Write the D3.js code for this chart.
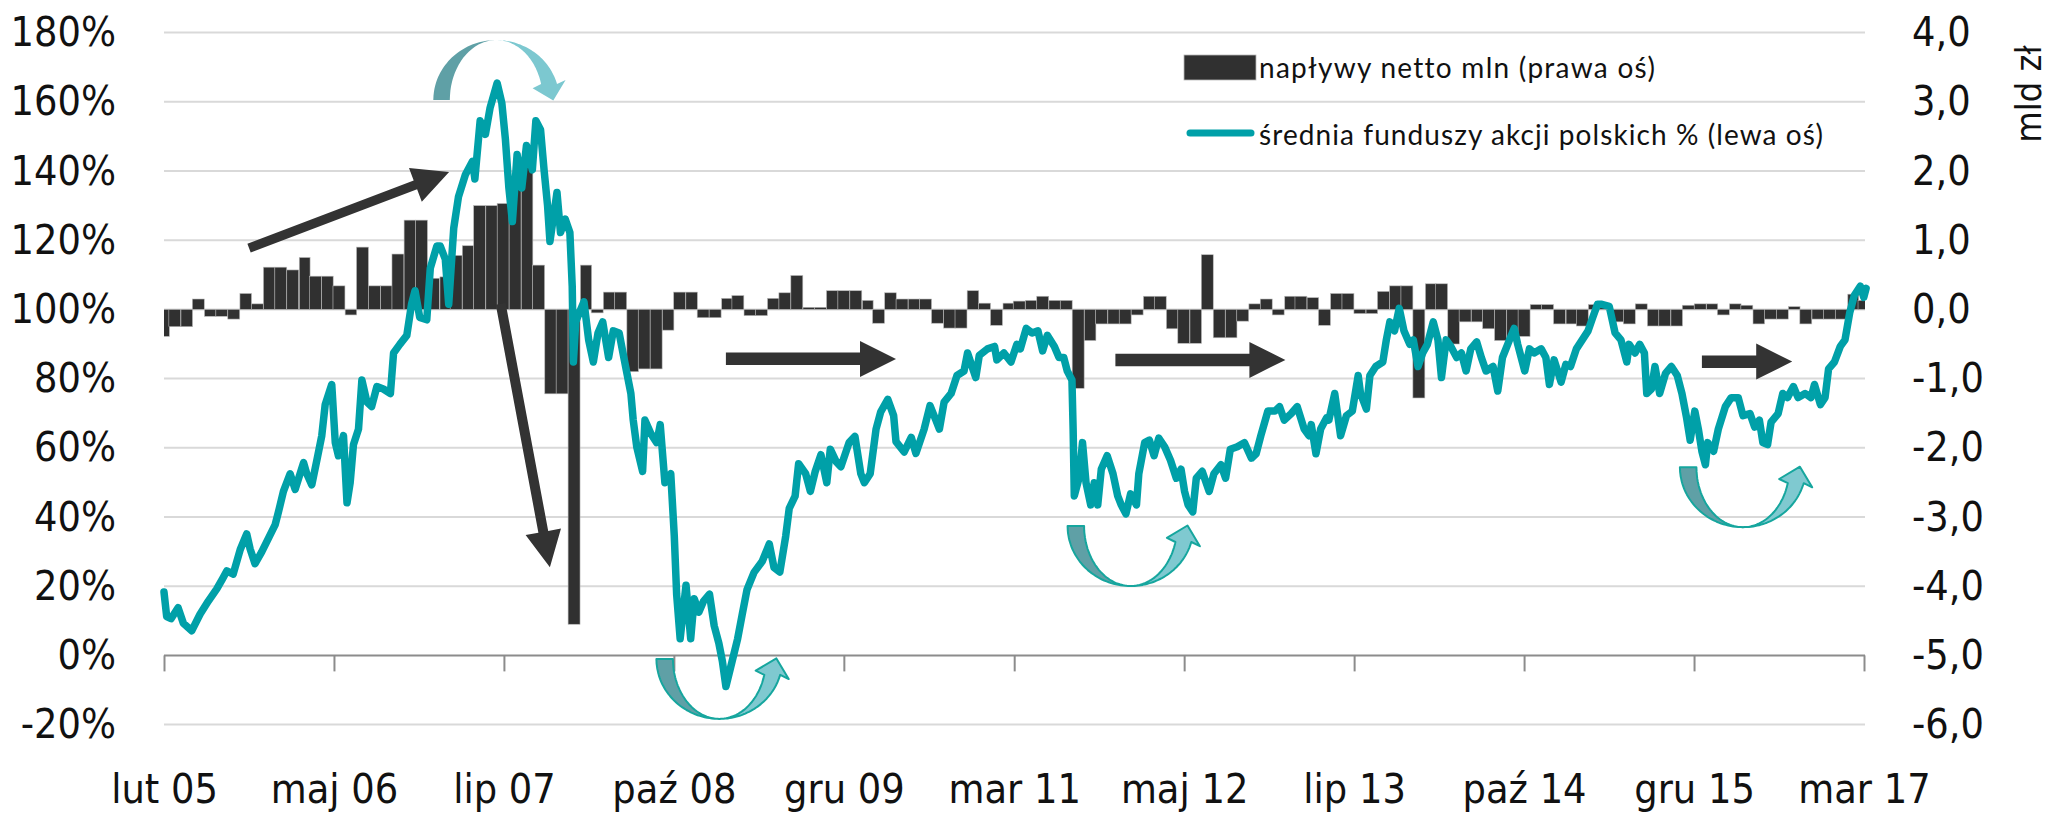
<!DOCTYPE html>
<meta charset="utf-8">
<html>
<head>
<style>
  body { margin:0; background:#fff; }
  svg { display:block; }
  text { font-variant-ligatures: none; }
</style>
<script src="https://d3js.org/d3.v7.min.js"></script>
</head>
<body>
<svg width="2070" height="815"></svg>
<script>
// ---- data ----
var leftTicks = [-20, 0, 20, 40, 60, 80, 100, 120, 140, 160, 180];
var rightTicks = [-6, -5, -4, -3, -2, -1, 0, 1, 2, 3, 4];
var xTickDates = ["2005-02-15", "2006-05-02", "2007-07-17", "2008-09-30", "2009-12-15", "2011-03-02",
                  "2012-05-16", "2013-07-31", "2014-10-15", "2015-12-30", "2017-03-15"];
var xTickLabels = ["lut 05", "maj 06", "lip 07", "paź 08", "gru 09", "mar 11",
                   "maj 12", "lip 13", "paź 14", "gru 15", "mar 17"];
var seriesStart = "2005-02-15";
var seriesEnd = "2017-03-15";

// monthly net inflows, bln zł (right axis), Feb 2005 .. Mar 2017
var netFlows = [
  -0.39, -0.25, -0.25, 0.15, -0.10, -0.10, -0.14, 0.23, 0.08, 0.61,
  0.61, 0.57, 0.75, 0.48, 0.48, 0.34, -0.08, 0.90, 0.34, 0.34,
  0.80, 1.29, 1.29, 0.45, 0.47, 0.78, 0.92, 1.50, 1.50, 1.53,
  1.85, 2.07, 0.64, -1.22, -1.22, -4.55, 0.64, -0.05, 0.25, 0.25,
  -0.90, -0.86, -0.86, -0.30, 0.25, 0.25, -0.12, -0.12, 0.16, 0.20,
  -0.09, -0.09, 0.16, 0.24, 0.49, 0.03, 0.03, 0.27, 0.27, 0.27,
  0.13, -0.20, 0.24, 0.15, 0.15, 0.15, -0.20, -0.27, -0.27, 0.27,
  0.09, -0.23, 0.09, 0.12, 0.13, 0.19, 0.13, 0.13, -1.14, -0.45,
  -0.21, -0.21, -0.21, -0.08, 0.19, 0.19, -0.28, -0.49, -0.49, 0.79,
  -0.41, -0.41, -0.17, 0.08, 0.15, -0.08, 0.19, 0.19, 0.17, -0.23,
  0.23, 0.23, -0.06, -0.06, 0.26, 0.34, 0.34, -1.28, 0.37, 0.37,
  -0.50, -0.18, -0.18, -0.28, -0.45, -0.45, -0.39, 0.07, 0.07, -0.21,
  -0.21, -0.24, 0.07, 0.05, -0.18, -0.21, 0.08, -0.24, -0.24, -0.24,
  0.06, 0.08, 0.08, -0.08, 0.08, 0.06, -0.21, -0.14, -0.14, 0.04,
  -0.21, -0.14, -0.14, -0.14, 0.22, 0.13
];

// average of Polish equity funds, % (left axis): [months since mid-Feb 2005, value]
var fundIndex = [
  [0,18.3],[0.23,11.2],[0.6,10.6],[1.2,13.8],[1.65,9.3],[2.36,7.1],[3.07,11.9],[3.78,15.7],[4.5,19.2],[5.0,22.2],
  [5.35,24.4],[5.9,23.5],[6.5,30.6],[7.05,35.1],[7.34,30.8],[7.76,26.5],[8.33,29.9],[8.9,33.8],[9.47,37.7],[9.76,41.5],
  [10.18,47.4],[10.75,52.5],[11.18,48],[11.9,55.7],[12.17,52.5],[12.6,49.3],[13.03,56.4],[13.45,63.5],[13.74,72.5],[14.3,78.3],
  [14.6,61.5],[14.87,57.7],[15.3,63.5],[15.6,44.1],[15.87,49.9],[16.15,60.9],[16.58,65.4],[16.87,79.6],[17.3,73.2],[17.7,71.9],
  [18.15,77.7],[18.7,77],[19.3,75.7],[19.57,87.4],[20.1,89.9],[20.7,92.5],[21.1,101.5],[21.4,105.4],[21.8,97.7],[22.4,97],
  [22.7,111.9],[23.26,118.3],[23.55,118.3],[23.98,114.5],[24.27,101.5],[24.7,123.5],[25.1,132.5],[25.7,139],[26.3,142.8],[26.5,137.7],
  [26.95,154.5],[27.4,150.6],[27.8,158.3],[28.4,165.4],[28.8,159.6],[29.1,149.3],[29.4,135.1],[29.7,125.4],[30.1,144.8],[30.5,135.1],
  [30.9,147.4],[31.4,140.3],[31.7,154.5],[32.1,151.9],[32.4,140.3],[32.7,129.9],[32.9,119.6],[33.5,133.8],[33.8,122.2],[34.2,126.1],
  [34.6,122.2],[34.8,106.7],[34.9,84.8],[35.1,96.4],[35.4,99],[35.8,102.2],[36.2,91.2],[36.6,84.8],[37.0,93.2],[37.4,96.4],
  [37.9,86.1],[38.3,93.8],[38.8,93.2],[39.2,86.1],[39.8,75.7],[40.0,68],[40.3,60.3],[40.8,53.2],[41.0,68],[41.5,64.1],
  [42.0,61.5],[42.3,66.7],[42.7,49.9],[43.2,52.5],[43.5,34.5],[43.7,17.7],[44.0,4.8],[44.5,20.3],[44.9,4.8],[45.2,16.4],
  [45.6,12.5],[46.0,15.7],[46.5,17.7],[46.9,8.6],[47.3,3.5],[47.6,-1.7],[47.9,-9],[48.3,-3.5],[48.9,4.8],[49.3,12],
  [49.7,19],[50.3,24],[51.0,27.2],[51.6,32.2],[52.0,25.4],[52.5,24.1],[53.0,34.5],[53.3,42.5],[53.8,46],[54.1,55.4],
  [54.7,52.5],[55.1,47.4],[55.5,53],[56.0,58],[56.5,49.9],[56.8,59.6],[57.3,56],[57.7,54.5],[58.4,61.5],[58.9,63.3],
  [59.4,52.5],[59.7,49.9],[60.2,52.5],[60.7,65.4],[61.1,70.4],[61.7,74],[62.2,69.3],[62.4,61.8],[63.1,58.8],[63.7,63],
  [64.1,58.4],[64.8,65.4],[65.3,72.2],[65.8,68],[66.1,65.4],[66.5,73.2],[67.1,75.7],[67.6,80.9],[68.2,82.2],[68.5,87.4],
  [69.2,80.3],[69.5,86.7],[70.2,88.6],[70.8,89.3],[71.0,85.4],[71.6,87.4],[72.2,84.8],[72.7,89.9],[73.0,88.6],[73.5,94.5],
  [74.0,93.2],[74.5,93.8],[74.9,88],[75.3,92.5],[75.9,89.3],[76.3,86.1],[76.7,86.1],[77.0,82.2],[77.4,79.6],[77.5,65.4],
  [77.6,46.1],[78.0,51.2],[78.3,61.5],[78.6,49.9],[79.0,43.5],[79.3,49.9],[79.6,43.5],[79.9,53.8],[80.4,57.7],[80.9,52.5],
  [81.3,46.1],[81.6,43.5],[82.0,40.9],[82.4,46.7],[82.9,43.5],[83.1,52.5],[83.6,61.5],[84.0,62.2],[84.4,57.7],[84.8,62.8],
  [85.3,60.3],[85.8,56.4],[86.3,51.2],[86.7,53.8],[87.0,47.4],[87.3,43.5],[87.7,41.5],[88.0,51.2],[88.5,53.2],[89.1,47.4],
  [89.5,52.5],[90.1,55.1],[90.5,51.2],[90.9,59.6],[91.5,60.3],[92.1,61.5],[92.7,57],[93.1,58.3],[93.5,63.5],[94.1,70.6],
  [94.7,70.6],[95.1,71.9],[95.5,68],[96.1,69.9],[96.6,71.9],[97.2,65.4],[97.6,63.5],[97.8,66.7],[98.2,58.3],[98.6,65.4],
  [99.1,68.6],[99.3,68],[99.8,75.7],[100.3,63.5],[100.8,69.3],[101.3,70.6],[101.8,80.9],[102.0,75.7],[102.5,71.2],[102.8,80.9],
  [103.3,83.5],[103.9,84.8],[104.2,91.2],[104.5,96.4],[104.9,93.8],[105.3,100.3],[105.7,93.8],[106.2,89.9],[106.5,91.2],[106.9,83.5],
  [107.3,87.4],[107.7,89.9],[108.2,96.4],[108.6,91.2],[108.9,80.3],[109.3,91.2],[109.7,89.3],[110.2,86.1],[110.6,87.4],[111.0,82.2],
  [111.4,88.6],[111.9,90.6],[112.3,86.1],[112.7,82.2],[113.3,83.5],[113.7,76.4],[114.1,86.1],[114.7,91.2],[115.1,94.5],[115.4,89.9],
  [116.0,82.2],[116.4,88.6],[116.8,87.4],[117.4,88.6],[117.8,86.1],[118.1,78.3],[118.5,85.4],[119.1,79],[119.5,84.1],[119.9,83.5],
  [120.4,88.6],[120.9,91.2],[121.4,93.8],[121.8,97.7],[122.2,101.5],[122.5,101.5],[123.2,100.9],[123.7,93.2],[124.2,91.2],[124.7,84.8],
  [124.9,89.9],[125.4,87.4],[125.8,89.9],[126.2,87.4],[126.4,75.7],[126.8,77],[127.1,83.5],[127.5,75.7],[128.0,81.5],[128.5,83.5],
  [129.0,80.9],[129.4,75.7],[129.8,68.6],[130.1,62.2],[130.5,70.6],[130.8,65.4],[131.1,59],[131.4,55.1],[131.6,61.5],[132.1,59],
  [132.5,65.4],[133.1,71.9],[133.6,74.5],[134.2,74.5],[134.6,69.3],[135.2,69.9],[135.6,66],[136.0,68],[136.3,61.5],[136.7,60.9],
  [137.0,67.4],[137.6,69.9],[138.0,75.7],[138.4,74.5],[138.9,77.7],[139.3,74.5],[139.9,75.7],[140.4,74.5],[140.7,78.3],[141.2,72.5],
  [141.6,74.5],[141.9,82.8],[142.4,84.8],[142.9,89.3],[143.3,91.2],[143.7,99],[144.1,104.1],[144.6,106.7],[144.9,103.5],[145.1,106.1]
];

var legendBars = "napływy netto mln (prawa oś)";
var legendLine = "średnia funduszy akcji polskich % (lewa oś)";
var rightAxisTitle = "mld zł";

// annotations, in [months, %] units
var trendArrows = [
  {from: [7.25, 117.7], to: [24.3, 139.7], shaft: 9.5},
  {from: [28.7, 101.6], to: [32.9, 25.5], shaft: 10},
  {from: [47.9, 85.7], to: [62.4, 85.7], shaft: 12.5},
  {from: [81.1, 85.4], to: [95.6, 85.4], shaft: 12.5},
  {from: [131.1, 84.9], to: [138.8, 84.9], shaft: 12.5}
];
var turnArrows = [
  {center: [28.33, 160.5], dir: -1, outline: false},
  {center: [47.35, -1.0], dir: 1, outline: true},
  {center: [82.4, 37.4], dir: 1, outline: true},
  {center: [134.6, 54.4], dir: 1, outline: true}
];

// ---- layout ----
var width = 2070, height = 815;
var plot = {left: 164, right: 1864, top: 32.6, bottom: 724.6};
var dark = "#303030", teal = "#00a0a8";
var axisFont = '"DejaVu Sans Condensed", "DejaVu Sans", sans-serif';

var parseDate = d3.timeParse("%Y-%m-%d");
var start = parseDate(seriesStart);
function monthDate(t) { return new Date(start.getTime() + t * 30.4375 * 864e5); }

var x = d3.scaleTime().domain([start, parseDate(seriesEnd)]).range([plot.left, plot.right]);
var yLeft = d3.scaleLinear().domain([-20, 180]).range([plot.bottom, plot.top]);
var yRight = d3.scaleLinear().domain([-6, 4]).range([plot.bottom, plot.top]);

var svg = d3.select("svg");
svg.append("rect").attr("width", width).attr("height", height).attr("fill", "#fff");

svg.append("defs").append("clipPath").attr("id", "plotClip")
  .append("rect").attr("x", plot.left).attr("y", 0)
  .attr("width", plot.right - plot.left + 1).attr("height", height);

// gridlines
svg.append("g").selectAll("line")
  .data(leftTicks.filter(d => d !== 0))
  .join("line")
  .attr("x1", plot.left).attr("x2", plot.right + 1)
  .attr("y1", d => yLeft(d)).attr("y2", d => yLeft(d))
  .attr("stroke", "#d9d9d9").attr("stroke-width", 2);

// bars
svg.append("g").attr("clip-path", "url(#plotClip)")
  .selectAll("rect")
  .data(netFlows)
  .join("rect")
  .attr("x", (d, i) => {
    var x0 = x(d3.timeMonth.offset(start, i)), x1 = x(d3.timeMonth.offset(start, i + 1));
    return x0 - (x1 - x0) / 2;
  })
  .attr("width", (d, i) => x(d3.timeMonth.offset(start, i + 1)) - x(d3.timeMonth.offset(start, i)))
  .attr("y", d => yRight(Math.max(0, d)))
  .attr("height", d => Math.abs(yRight(d) - yRight(0)))
  .attr("fill", dark)
  .attr("stroke", "#b8b8b8")
  .attr("stroke-width", 0.6);

// x axis (line at 0%, labels low)
var xAxis = d3.axisBottom(x)
  .tickValues(xTickDates.map(parseDate))
  .tickFormat((d, i) => xTickLabels[i])
  .tickSize(16)
  .tickSizeOuter(0)
  .tickPadding(102.5);
var gx = svg.append("g")
  .attr("transform", "translate(0," + yLeft(0) + ")")
  .call(xAxis)
  .attr("font-family", axisFont).attr("font-size", 41);
gx.select(".domain").attr("stroke", "#8c8c8c").attr("stroke-width", 2)
  .attr("d", "M" + plot.left + ",0H" + (plot.right + 1));
gx.selectAll(".tick line").attr("stroke", "#8c8c8c").attr("stroke-width", 2);
gx.selectAll(".tick text").attr("fill", "#111").style("font-stretch", "condensed");

// left axis
var gl = svg.append("g")
  .attr("transform", "translate(" + plot.left + ",0)")
  .call(d3.axisLeft(yLeft).tickValues(leftTicks).tickFormat(d => d + "%").tickSize(0).tickPadding(48))
  .attr("font-family", axisFont).attr("font-size", 41);
gl.select(".domain").remove();
gl.selectAll(".tick text").attr("fill", "#111").style("font-stretch", "condensed");

// right axis
var fmtRight = d => (d < 0 ? "-" : "") + Math.abs(d).toFixed(1).replace(".", ",");
var gr = svg.append("g")
  .attr("transform", "translate(" + plot.right + ",0)")
  .call(d3.axisRight(yRight).tickValues(rightTicks).tickFormat(fmtRight).tickSize(0).tickPadding(48))
  .attr("font-family", axisFont).attr("font-size", 41);
gr.select(".domain").remove();
gr.selectAll(".tick text").attr("fill", "#111").style("font-stretch", "condensed");

svg.append("text")
  .attr("transform", "translate(2041,94) rotate(-90)")
  .attr("text-anchor", "middle")
  .attr("font-family", axisFont).style("font-stretch", "condensed")
  .attr("font-size", 36).attr("fill", "#111")
  .text(rightAxisTitle);

// fund index line
svg.append("path")
  .datum(fundIndex)
  .attr("d", d3.line().x(d => x(monthDate(d[0]))).y(d => yLeft(d[1])))
  .attr("fill", "none")
  .attr("stroke", teal)
  .attr("stroke-width", 7.5)
  .attr("stroke-linejoin", "round")
  .attr("stroke-linecap", "round");

// ---- annotations ----
var ann = svg.append("g");

function ptsPath(p) { return "M" + p.map(q => q[0].toFixed(1) + "," + q[1].toFixed(1)).join("L") + "Z"; }

trendArrows.forEach(a => {
  var x1 = x(monthDate(a.from[0])), y1 = yLeft(a.from[1]);
  var x2 = x(monthDate(a.to[0])), y2 = yLeft(a.to[1]);
  var hw = 36, hl = 36, sw = a.shaft;
  var L = Math.hypot(x2 - x1, y2 - y1), ux = (x2 - x1) / L, uy = (y2 - y1) / L, nx = -uy, ny = ux;
  var bx = x2 - ux * hl, by = y2 - uy * hl;
  ann.append("path")
    .attr("d", ptsPath([
      [x1 + nx * sw / 2, y1 + ny * sw / 2], [bx + nx * sw / 2, by + ny * sw / 2],
      [bx + nx * hw / 2, by + ny * hw / 2], [x2, y2],
      [bx - nx * hw / 2, by - ny * hw / 2], [bx - nx * sw / 2, by - ny * sw / 2],
      [x1 - nx * sw / 2, y1 - ny * sw / 2]]))
    .attr("fill", "#333333");
});

turnArrows.forEach(a => {
  var cx = x(monthDate(a.center[0])), cy = yLeft(a.center[1]);
  var rx = 63, ry = 60, w = 16.5, hl = 17, hw = 34, n = 40, s = a.dir;
  var te = Math.asin(16 / ry);
  function P(th, r) { return [cx + r * Math.cos(th), cy + s * ry * Math.sin(th)]; }
  var left = [], right = [], i;
  for (i = 0; i <= n; i++) left.push(P(Math.PI - i / n * Math.PI / 2, rx));
  for (i = 0; i <= n; i++) left.push(P(Math.PI / 2 + i / n * Math.PI / 2, rx - w));
  for (i = 0; i <= n; i++) right.push(P(Math.PI / 2 - i / n * (Math.PI / 2 - te), rx));
  var po = P(te, rx), pi = P(te, rx - w);
  var m = [(po[0] + pi[0]) / 2, (po[1] + pi[1]) / 2];
  var r = rx - w / 2;
  var tx = r * Math.sin(te), ty = -s * ry * Math.cos(te), tl = Math.hypot(tx, ty);
  tx /= tl; ty /= tl;
  var nx = -ty, ny = tx;
  if (nx * (po[0] - pi[0]) + ny * (po[1] - pi[1]) < 0) { nx = -nx; ny = -ny; }
  right.push([m[0] + nx * hw / 2, m[1] + ny * hw / 2]);
  right.push([m[0] + tx * hl, m[1] + ty * hl]);
  right.push([m[0] - nx * hw / 2, m[1] - ny * hw / 2]);
  for (i = 0; i <= n; i++) right.push(P(te + i / n * (Math.PI / 2 - te), rx - w));
  ann.append("path").attr("d", ptsPath(right))
    .attr("fill", a.outline ? "#7fc9d0" : "#7cc8d0")
    .attr("stroke", a.outline ? "#16a69e" : "none").attr("stroke-width", 2)
    .attr("stroke-linejoin", "round");
  ann.append("path").attr("d", ptsPath(left))
    .attr("fill", "#5fa0a6")
    .attr("stroke", a.outline ? "#16a69e" : "none").attr("stroke-width", 2)
    .attr("stroke-linejoin", "round");
});

// ---- legend ----
var legendFont = 'Lato, "Open Sans", sans-serif';
svg.append("rect").attr("x", 1184).attr("y", 55).attr("width", 72).attr("height", 25)
  .attr("fill", dark).attr("stroke", "#b8b8b8").attr("stroke-width", 0.8);
svg.append("text").attr("x", 1259).attr("y", 78)
  .attr("font-family", legendFont).attr("font-size", 28).attr("fill", "#111")
  .attr("textLength", 396).attr("lengthAdjust", "spacing")
  .text(legendBars);
svg.append("line").attr("x1", 1190).attr("x2", 1251).attr("y1", 133).attr("y2", 133)
  .attr("stroke", teal).attr("stroke-width", 7).attr("stroke-linecap", "round");
svg.append("text").attr("x", 1259).attr("y", 145)
  .attr("font-family", legendFont).attr("font-size", 28).attr("fill", "#111")
  .attr("textLength", 564).attr("lengthAdjust", "spacing")
  .text(legendLine);
</script>
</body>
</html>
